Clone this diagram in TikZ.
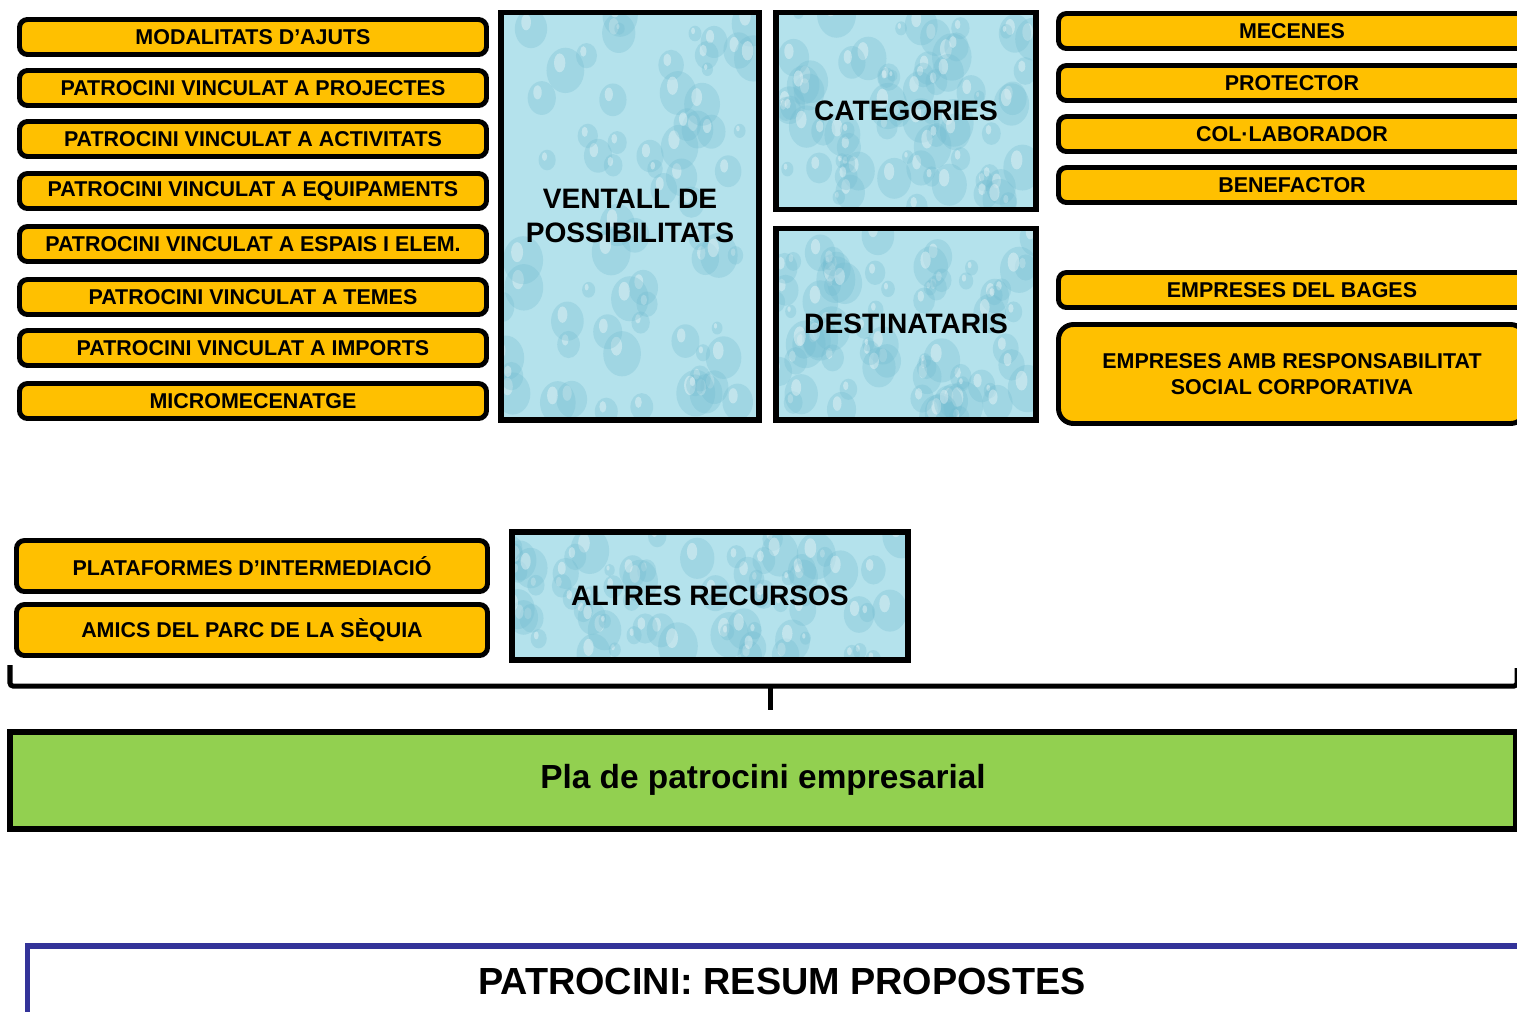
\documentclass[tikz,border=0pt]{standalone}
\usepackage{fontspec}
\setmainfont{Liberation Sans}
\usetikzlibrary{calc}
\definecolor{taronja}{HTML}{FFC000}
\definecolor{aigua}{HTML}{B4E2EC}
\definecolor{gota}{HTML}{6FBACF}
\definecolor{verd}{HTML}{92D050}
\definecolor{blau}{HTML}{333399}
\begin{document}
\begin{tikzpicture}[x=0.2mm,y=-0.2mm]
    \tikzset{opc/.style={draw,line width=2.8pt,rounded corners=1.6mm,fill=taronja,
      minimum width=93.4mm,minimum height=7mm,inner sep=0pt,align=center,
      font=\fontsize{12.2}{14.8}\selectfont\bfseries},
    aigua/.style={draw,line width=3.4pt,fill=aigua,inner sep=0pt,align=center,
      font=\fontsize{16}{19.3}\selectfont\bfseries,
      path picture={\pgfmathsetseed{#1}
        \foreach \i in {1,...,70}{
          \pgfmathsetmacro{\rx}{rnd}\pgfmathsetmacro{\ry}{rnd}
          \pgfmathsetmacro{\ra}{1+3*rnd}
          \coordinate (g) at ($(path picture bounding box.south west)!\rx!(path picture bounding box.south east)
            +(path picture bounding box.south west)!\ry!(path picture bounding box.north west)
            -(path picture bounding box.south west)$);
          \fill[gota,fill opacity=.28] (g) ellipse [x radius=\ra mm,y radius=1.2*\ra mm];
          \fill[white,fill opacity=.35] ($(g)+(-.3*\ra mm,.4*\ra mm)$) ellipse [x radius=.3*\ra mm,y radius=.5*\ra mm];
        }}},
    clau/.style={line width=2.85pt,rounded corners=0.6mm}}
    \useasboundingbox (0,0) rectangle (1517,1011);
    \clip (0,0) rectangle (1517,1011);

    % modalitats
    \node[opc] (mod) at (253,37) {MODALITATS D’AJUTS};
    \node[opc] (proj) at (253,88) {PATROCINI VINCULAT A PROJECTES};
    \node[opc] (act) at (253,139) {PATROCINI VINCULAT A ACTIVITATS};
    \node[opc] (equ) at (253,191) {PATROCINI VINCULAT A EQUIPAMENTS};
    \node[opc] (esp) at (253,244) {PATROCINI VINCULAT A ESPAIS I ELEM.};
    \node[opc] (tem) at (253,297) {PATROCINI VINCULAT A TEMES};
    \node[opc] (imp) at (253,348) {PATROCINI VINCULAT A IMPORTS};
    \node[opc] (micro) at (253,401) {MICROMECENATGE};

    \node[aigua=3,minimum width=51.6mm,minimum height=81.4mm] (vent) at (630,216) {VENTALL DE\\POSSIBILITATS};
    \node[aigua=5,minimum width=52mm,minimum height=39.4mm] (cat) at (906,111) {CATEGORIES};
    \node[aigua=8,minimum width=52mm,minimum height=38.2mm] (dest) at (906,324) {DESTINATARIS};

    % categories i destinataris
    \node[opc] (mec) at (1292,31) {MECENES};
    \node[opc] (prot) at (1292,83) {PROTECTOR};
    \node[opc] (col) at (1292,134) {COL·LABORADOR};
    \node[opc] (ben) at (1292,185) {BENEFACTOR};
    \node[opc] (bag) at (1292,290) {EMPRESES DEL BAGES};
    \node[opc,rounded corners=3mm,minimum height=19.8mm] (rsc) at (1292,374) {EMPRESES AMB RESPONSABILITAT\\SOCIAL CORPORATIVA};

    % altres recursos
    \node[opc,minimum width=94.2mm,minimum height=10.2mm] (plat) at (252,566) {PLATAFORMES D’INTERMEDIACIÓ};
    \node[opc,minimum width=94.2mm,minimum height=10.2mm] (amics) at (252,630) {AMICS DEL PARC DE LA SÈQUIA};
    \node[aigua=11,minimum width=79.2mm,minimum height=25.6mm] (altres) at (710,596) {ALTRES RECURSOS};

    \coordinate (ce) at (770,686);
    \draw[clau] (10,665) |- (1517,686) -- (1517,668);
    \draw[clau] (ce) -- ++(0,24);

    \node[draw,line width=3.4pt,fill=verd,minimum width=301.2mm,minimum height=19.4mm,
      font=\fontsize{19}{22}\selectfont\bfseries] (pla) at (763,780) {Pla de patrocini empresarial};
    \node[draw=blau,line width=3.4pt,minimum width=301.8mm,minimum height=14.2mm,
      font=\fontsize{21.5}{25}\selectfont\bfseries] (titol) at (782,981) {PATROCINI: RESUM PROPOSTES};
\end{tikzpicture}
\end{document}
